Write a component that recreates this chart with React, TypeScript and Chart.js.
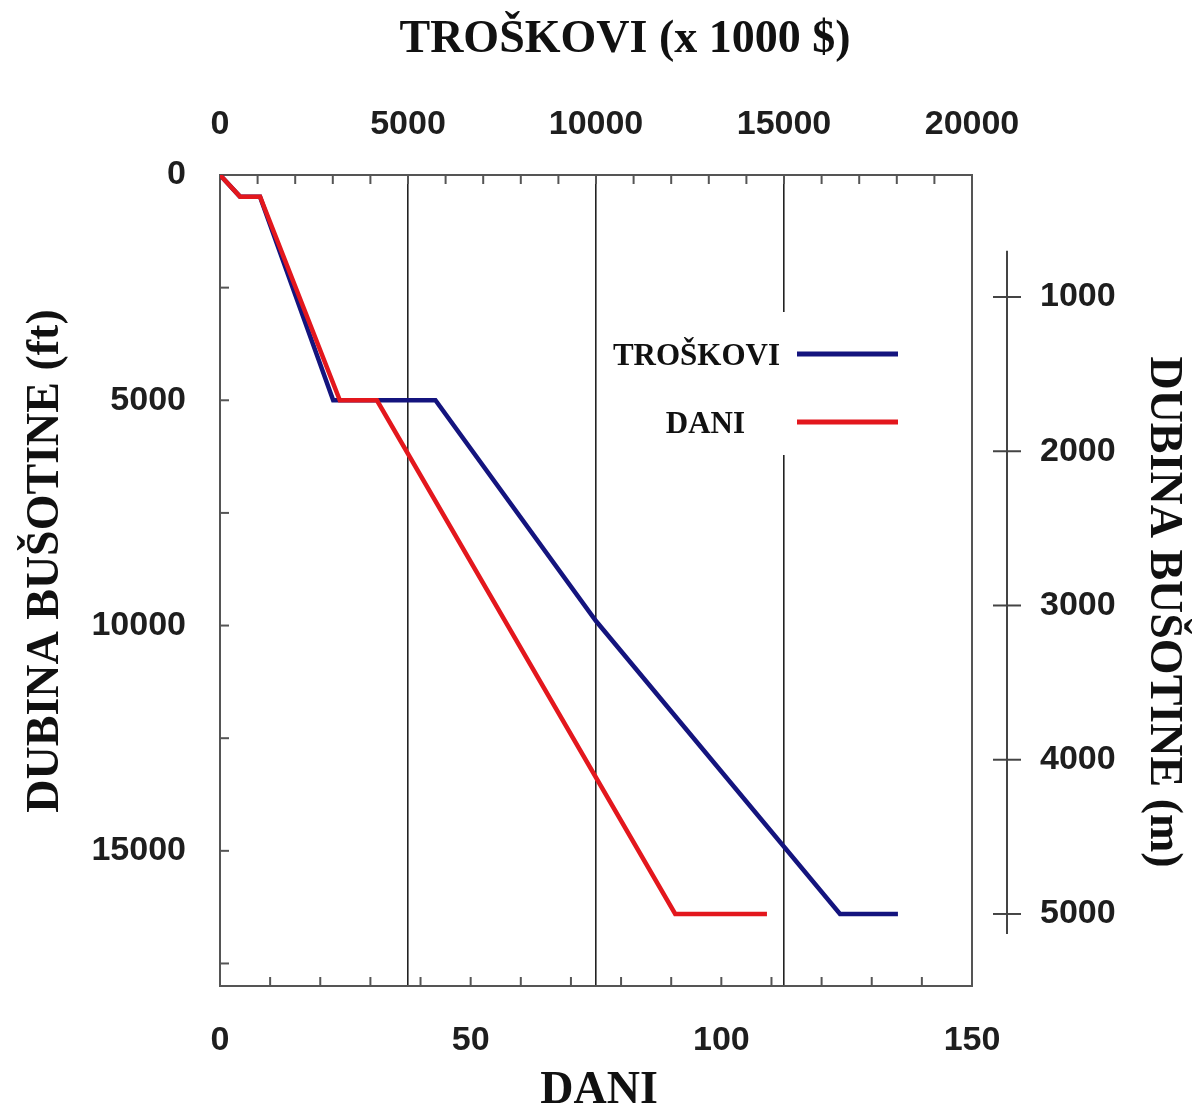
import React, { useEffect, useRef } from "react";
import { Chart, registerables } from "chart.js";

Chart.register(...registerables);

// ---- data ----
// DANI: depth (ft) vs. days
const DANI_DAYS = [0, 4, 8, 23.9, 31.3, 90.8, 109.1];
const DANI_DEPTH_FT = [0, 480, 480, 5000, 5000, 16400, 16400];
// TROŠKOVI: depth (ft) vs. cost (x 1000 $)
const TROSKOVI_COST = [0, 532, 1064, 3010, 5730, 10000, 16490, 18030];
const TROSKOVI_DEPTH_FT = [0, 480, 480, 5000, 5000, 9900, 16400, 16400];

// ---- axes ----
const DAY_RANGE = [0, 150];
const DAY_TICKS = [0, 10, 20, 30, 40, 50, 60, 70, 80, 90, 100, 110, 120, 130, 140, 150];
const DAY_LABELS = [0, 50, 100, 150];

const COST_RANGE = [0, 20000];
const COST_TICKS = [
  0, 1000, 2000, 3000, 4000, 5000, 6000, 7000, 8000, 9000, 10000,
  11000, 12000, 13000, 14000, 15000, 16000, 17000, 18000, 19000, 20000,
];
const COST_LABELS = [0, 5000, 10000, 15000, 20000];
const COST_GRID = [5000, 10000, 15000];

const DEPTH_FT_RANGE = [0, 18000];
const DEPTH_FT_TICKS = [0, 2500, 5000, 7500, 10000, 12500, 15000, 17500];
const DEPTH_FT_LABELS = [0, 5000, 10000, 15000];

const DEPTH_M_RANGE = [209, 5467];
const DEPTH_M_TICKS = [1000, 2000, 3000, 4000, 5000];
const DEPTH_M_LINE = [700, 5130];

const TITLE_TOP = "TROŠKOVI (x 1000 $)";
const TITLE_BOTTOM = "DANI";
const TITLE_LEFT = "DUBINA BUŠOTINE (ft)";
const TITLE_RIGHT = "DUBINA BUŠOTINE (m)";
const LEGEND_LABELS = ["TROŠKOVI", "DANI"];

const BLUE = "#14147e";
const RED = "#e3171d";
const FRAME = "#555555";
const TICK_FONT = { family: "'Liberation Sans', Arial, sans-serif", size: 34, weight: "bold" as const };
const TICK_COLOR = "#1e1e1e";
const TITLE_FONT = "bold 46px 'Liberation Serif', 'Times New Roman', serif";

const setTicks = (values: number[]) => (scale: any) => {
  scale.ticks = values.map((v) => ({ value: v }));
};
const labelIf = (values: number[]) => (v: any) => (values.includes(Number(v)) ? String(v) : "");

const framePlugin = {
  id: "frame",
  beforeDatasetsDraw(chart: any) {
    const { ctx, chartArea: a, scales } = chart;
    const L = 9;
    ctx.save();
    ctx.strokeStyle = FRAME;
    ctx.lineWidth = 2;
    const seg = (x1: number, y1: number, x2: number, y2: number) => {
      ctx.beginPath();
      ctx.moveTo(x1, y1);
      ctx.lineTo(x2, y2);
      ctx.stroke();
    };
    scales.y.ticks.forEach((t: any) => {
      const p = scales.y.getPixelForValue(t.value);
      seg(a.left, p, a.left + L, p);
    });
    scales.x.ticks.forEach((t: any) => {
      const p = scales.x.getPixelForValue(t.value);
      seg(p, a.bottom, p, a.bottom - L);
    });
    scales.x2.ticks.forEach((t: any) => {
      const p = scales.x2.getPixelForValue(t.value);
      seg(p, a.top, p, a.top + L);
    });
    ctx.strokeRect(a.left, a.top, a.right - a.left, a.bottom - a.top);

    // separate metre axis
    const m = scales.yM;
    const ax = a.right + 35;
    ctx.strokeStyle = "#444";
    seg(ax, m.getPixelForValue(DEPTH_M_LINE[0]), ax, m.getPixelForValue(DEPTH_M_LINE[1]));
    m.ticks.forEach((t: any) => {
      const p = m.getPixelForValue(t.value);
      seg(ax - 14, p, ax + 14, p);
    });
    ctx.restore();
  },
};

const legendPlugin = {
  id: "legendBox",
  afterDatasetsDraw(chart: any) {
    const { ctx } = chart;
    ctx.save();
    ctx.fillStyle = "#ffffff";
    ctx.fillRect(600, 312, 310, 143);
    ctx.font = "bold 31px 'Liberation Serif', 'Times New Roman', serif";
    ctx.textAlign = "right";
    ctx.textBaseline = "alphabetic";
    const colors = [BLUE, RED];
    const rows = [354, 422];
    const textRight = [780, 745];
    LEGEND_LABELS.forEach((lab, i) => {
      ctx.fillStyle = "#111";
      ctx.fillText(lab, textRight[i], rows[i] + 11);
      ctx.strokeStyle = colors[i];
      ctx.lineWidth = 5;
      ctx.beginPath();
      ctx.moveTo(797, rows[i]);
      ctx.lineTo(898, rows[i]);
      ctx.stroke();
    });
    ctx.restore();
  },
};

const titlePlugin = {
  id: "titles",
  afterDraw(chart: any) {
    const { ctx } = chart;
    ctx.save();
    ctx.fillStyle = "#111";
    ctx.font = TITLE_FONT;
    ctx.textBaseline = "alphabetic";
    ctx.textAlign = "center";
    ctx.fillText(TITLE_TOP, 625, 52);
    ctx.fillText(TITLE_BOTTOM, 599, 1103);

    ctx.save();
    ctx.translate(58, 561);
    ctx.rotate(-Math.PI / 2);
    ctx.fillText(TITLE_LEFT, 0, 0);
    ctx.restore();

    ctx.save();
    ctx.translate(1151, 612);
    ctx.rotate(Math.PI / 2);
    ctx.fillText(TITLE_RIGHT, 0, 0);
    ctx.restore();
    ctx.restore();
  },
};

export default function App() {
  const ref = useRef<HTMLCanvasElement | null>(null);

  useEffect(() => {
    if (!ref.current) return;
    const chart = new Chart(ref.current, {
      type: "line",
      data: {
        datasets: [
          {
            label: LEGEND_LABELS[0],
            data: TROSKOVI_COST.map((c, i) => ({ x: c, y: TROSKOVI_DEPTH_FT[i] })),
            xAxisID: "x2",
            yAxisID: "y",
            borderColor: BLUE,
            borderWidth: 4.5,
            pointRadius: 0,
            tension: 0,
            fill: false,
            order: 2,
          },
          {
            label: LEGEND_LABELS[1],
            data: DANI_DAYS.map((d, i) => ({ x: d, y: DANI_DEPTH_FT[i] })),
            xAxisID: "x",
            yAxisID: "y",
            borderColor: RED,
            borderWidth: 4.5,
            pointRadius: 0,
            tension: 0,
            fill: false,
            order: 1,
          },
        ],
      },
      options: {
        responsive: false,
        animation: false,
        layout: { padding: 0 },
        plugins: { legend: { display: false }, tooltip: { enabled: false }, title: { display: false } },
        scales: {
          x: {
            type: "linear",
            position: "bottom",
            min: DAY_RANGE[0],
            max: DAY_RANGE[1],
            afterBuildTicks: setTicks(DAY_TICKS),
            afterFit: (s: any) => {
              s.height = 124;
            },
            grid: { drawOnChartArea: false, drawTicks: false },
            border: { display: false },
            ticks: {
              autoSkip: false,
              maxRotation: 0,
              padding: 34,
              color: TICK_COLOR,
              font: TICK_FONT,
              callback: labelIf(DAY_LABELS),
            },
          },
          x2: {
            type: "linear",
            position: "top",
            min: COST_RANGE[0],
            max: COST_RANGE[1],
            afterBuildTicks: setTicks(COST_TICKS),
            afterFit: (s: any) => {
              s.height = 175;
            },
            grid: {
              drawTicks: false,
              lineWidth: 1.6,
              color: (c: any) => (c.tick && COST_GRID.includes(c.tick.value) ? "#222" : "rgba(0,0,0,0)"),
            },
            border: { display: false },
            ticks: {
              autoSkip: false,
              maxRotation: 0,
              padding: 30,
              color: TICK_COLOR,
              font: TICK_FONT,
              callback: labelIf(COST_LABELS),
            },
          },
          y: {
            type: "linear",
            position: "left",
            reverse: true,
            min: DEPTH_FT_RANGE[0],
            max: DEPTH_FT_RANGE[1],
            afterBuildTicks: setTicks(DEPTH_FT_TICKS),
            afterFit: (s: any) => {
              s.width = 220;
            },
            grid: { drawOnChartArea: false, drawTicks: false },
            border: { display: false },
            ticks: {
              autoSkip: false,
              padding: 34,
              color: TICK_COLOR,
              font: TICK_FONT,
              callback: labelIf(DEPTH_FT_LABELS),
            },
          },
          yM: {
            type: "linear",
            position: "right",
            reverse: true,
            min: DEPTH_M_RANGE[0],
            max: DEPTH_M_RANGE[1],
            afterBuildTicks: setTicks(DEPTH_M_TICKS),
            afterFit: (s: any) => {
              s.width = 227;
            },
            grid: { drawOnChartArea: false, drawTicks: false },
            border: { display: false },
            ticks: {
              autoSkip: false,
              padding: 68,
              color: TICK_COLOR,
              font: TICK_FONT,
              callback: labelIf(DEPTH_M_TICKS),
            },
          },
        },
      },
      plugins: [framePlugin, legendPlugin, titlePlugin],
    });
    return () => chart.destroy();
  }, []);

  return (
    <div style={{ position: "absolute", left: 0, top: 0, width: 1199, height: 1110, background: "#fff" }}>
      <canvas ref={ref} width={1199} height={1110} style={{ display: "block" }} />
    </div>
  );
}
